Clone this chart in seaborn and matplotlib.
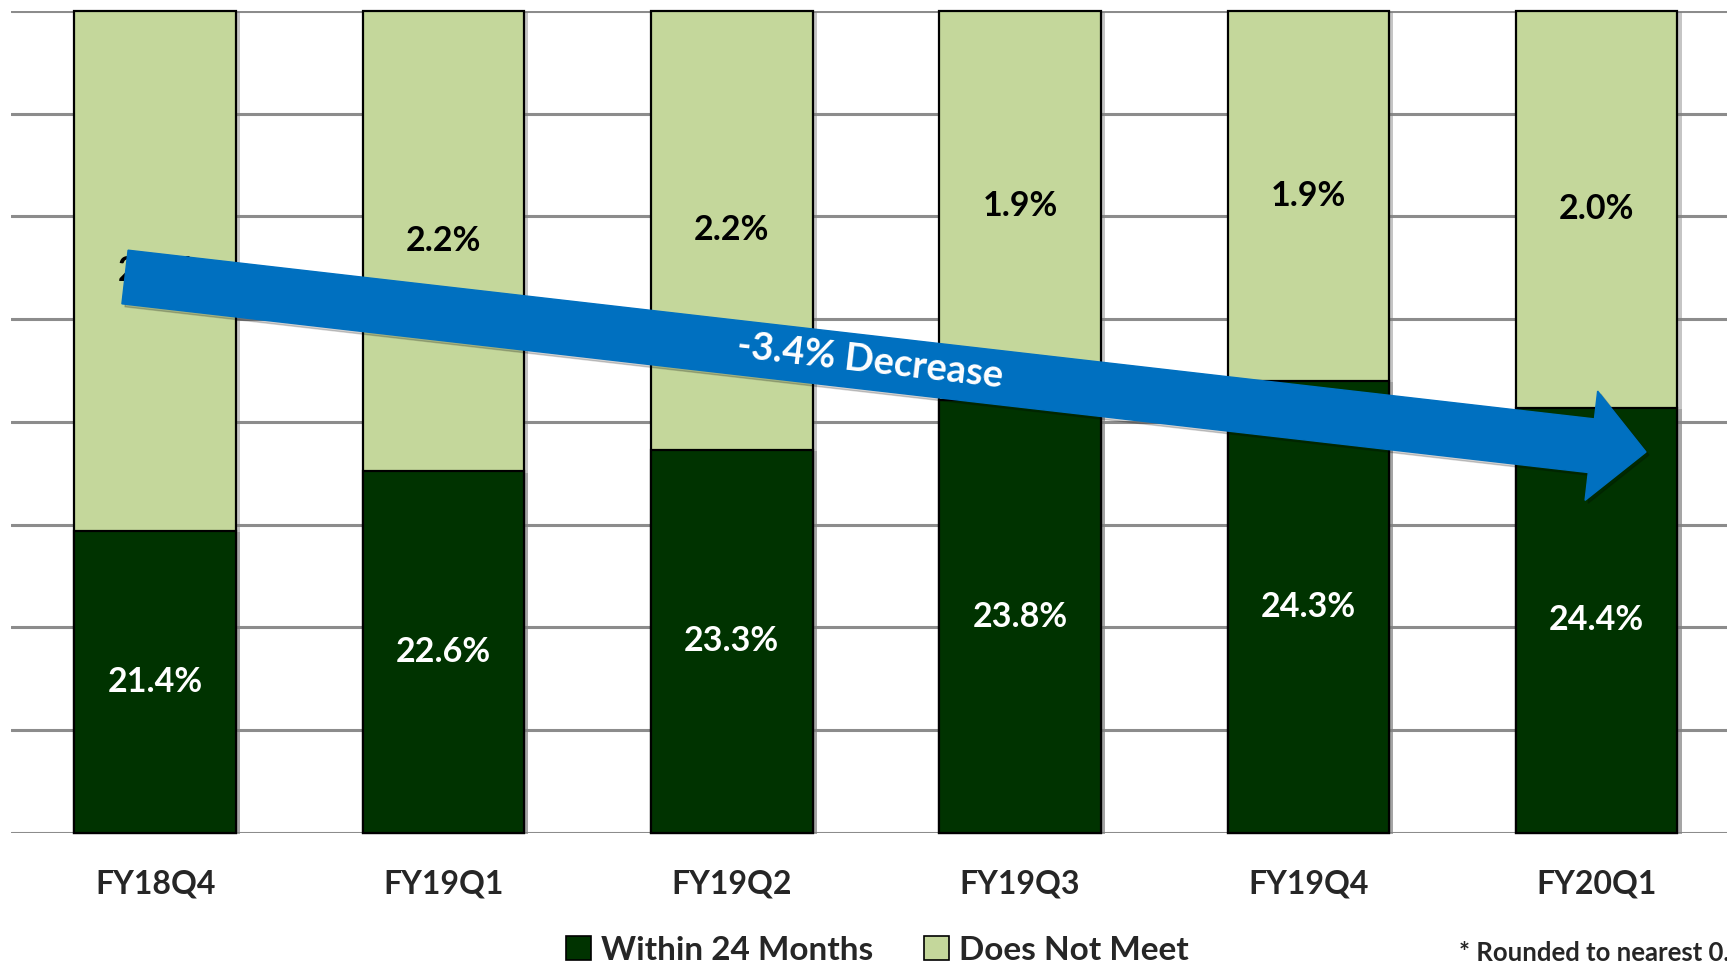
import matplotlib
matplotlib.use("Agg")
import matplotlib.pyplot as plt
import matplotlib.patheffects as pe
from matplotlib.patches import Patch, FancyArrow
import seaborn as sns
import pandas as pd

# --- DATA ---
quarters = ['FY18Q4', 'FY19Q1', 'FY19Q2', 'FY19Q3', 'FY19Q4', 'FY20Q1']
within_pct = [21.4, 22.6, 23.3, 23.8, 24.3, 24.4]
not_meet_pct = [2.5, 2.2, 2.2, 1.9, 1.9, 2.0]
# bar heights as drawn (the original axis is not proportional to the labels)
within_bar = [29.4, 35.2, 37.3, 42.1, 44.0, 41.4]
not_meet_bar = [50.6, 44.8, 42.7, 37.9, 36.0, 38.6]

DARK = '#003300'
LIGHT = '#C4D79B'
BLUE = '#0070C0'

df = pd.DataFrame({'quarter': quarters, 'within': within_bar, 'not_meet': not_meet_bar})
df['total'] = df['within'] + df['not_meet']

sns.set_theme(style='white')
plt.rcParams['font.family'] = ['Lato', 'DejaVu Sans']
plt.rcParams['font.weight'] = 'bold'

fig = plt.figure(figsize=(17.27, 9.64), dpi=100)
ax = fig.add_axes([0.0064, 0.1359, 0.9936, 0.8527])

shadow = [pe.SimplePatchShadow(offset=(3, -1), shadow_rgbFace='#808080', alpha=0.45), pe.Normal()]

# light bar = full stack, dark bar drawn over it
sns.barplot(data=df, x='quarter', y='total', color=LIGHT, width=0.56,
            edgecolor='black', linewidth=1.6, saturation=1, ax=ax, zorder=2)
sns.barplot(data=df, x='quarter', y='within', color=DARK, width=0.56,
            edgecolor='black', linewidth=1.6, saturation=1, ax=ax, zorder=3)
for p in ax.patches:
    p.set_path_effects(shadow)
    p.set_clip_on(False)

ax.set_xlim(-0.5, 5.452)
ax.set_ylim(0, 80)
ax.set_yticks(range(0, 81, 10))
ax.yaxis.grid(True, color='#8c8c8c', linewidth=2.2, zorder=0)
ax.set_axisbelow(True)
for s in ax.spines.values():
    s.set_visible(False)
ax.tick_params(axis='both', length=0)
ax.tick_params(axis='x', pad=26, labelsize=23)
ax.set_yticklabels([])
ax.set_xlabel('')
ax.set_ylabel('')
for lab in ax.get_xticklabels():
    lab.set_fontweight('bold')

# value labels
for i in range(len(quarters)):
    ax.text(i, within_bar[i] / 2, f'{within_pct[i]:.1f}%', ha='center', va='center',
            color='white', fontsize=24.5, fontweight='bold', zorder=4)
    ax.text(i, within_bar[i] + not_meet_bar[i] / 2, f'{not_meet_pct[i]:.1f}%', ha='center',
            va='center', color='black', fontsize=24.5, fontweight='bold', zorder=4)

# trend arrow (figure inches, origin bottom-left)
tr = fig.dpi_scale_trans
arrow_shadow = FancyArrow(1.28, 6.84, 15.21, -1.75, width=0.54, head_width=1.10, head_length=0.55,
                          length_includes_head=True, color='#000000', alpha=0.18, transform=tr,
                          zorder=8)
arrow = FancyArrow(1.25, 6.87, 15.21, -1.75, width=0.54, head_width=1.10, head_length=0.55,
                   length_includes_head=True, color=BLUE, transform=tr, zorder=9)
fig.patches.extend([arrow_shadow, arrow])
fig.text(8.70, 6.03, '-3.4% Decrease', transform=tr, rotation=-6.56, rotation_mode='anchor',
         ha='center', va='center', color='white', fontsize=27.5, fontweight='bold', zorder=10)

# legend
handles = [Patch(facecolor=DARK, edgecolor='black', linewidth=1.2, label='Within 24 Months'),
           Patch(facecolor=LIGHT, edgecolor='black', linewidth=1.2, label='Does Not Meet')]
fig.legend(handles=handles, loc='center', bbox_to_anchor=(0.508, 0.0145), ncol=2, frameon=False,
           fontsize=24, handlelength=0.75, handleheight=0.75, handletextpad=0.3,
           columnspacing=1.5, borderaxespad=0, borderpad=0)

# footnote runs off the right edge, as in the original
fig.text(0.845, 0.0114, '* Rounded to nearest 0.1%', ha='left', va='center', fontsize=18.5,
         fontweight='bold')

plt.savefig('out.png', dpi=100)
